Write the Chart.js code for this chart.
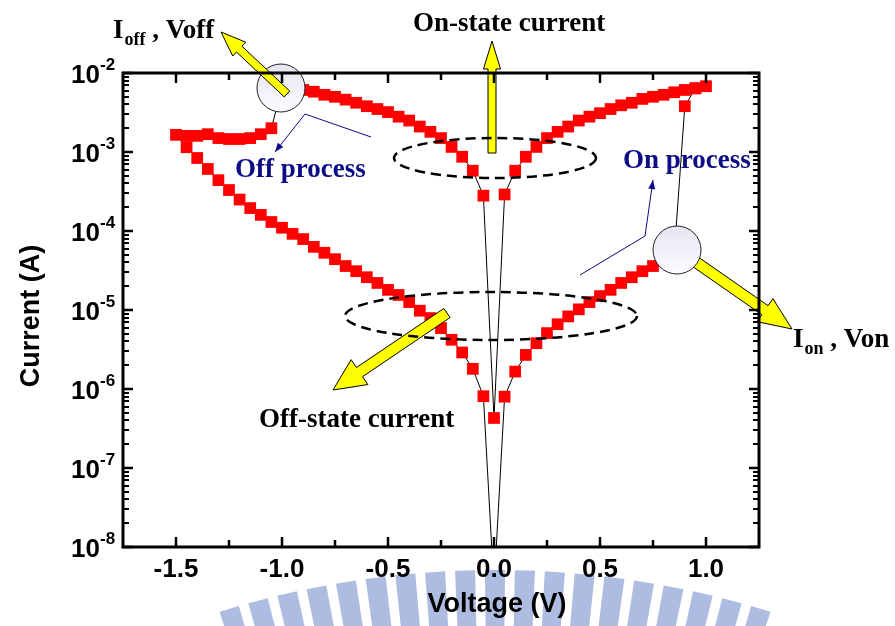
<!DOCTYPE html>
<html>
<head>
<meta charset="utf-8">
<script src="https://cdn.jsdelivr.net/npm/chart.js@4.4.1/dist/chart.umd.min.js"></script>
<style>
  html, body { margin: 0; padding: 0; background: #fff; }
  #wrap { width: 895px; height: 626px; }
</style>
</head>
<body>
<div id="wrap"><canvas id="ivChart" width="895" height="626"></canvas></div>
<script>
// 0 V -> +1.0 V : low state, switches on near 0.85 V
const setV = [0, 0.05, 0.10, 0.15, 0.20, 0.25, 0.30, 0.35, 0.40, 0.45, 0.50,
              0.55, 0.60, 0.65, 0.70, 0.75, 0.80, 0.85, 0.90, 0.95, 1.00];
const setI = [3e-9, 8.0e-7, 1.66e-6, 2.7e-6, 3.8e-6, 5.1e-6, 6.6e-6, 8.3e-6, 1.02e-5, 1.26e-5, 1.5e-5,
              1.8e-5, 2.2e-5, 2.6e-5, 3.1e-5, 3.6e-5, 4.3e-5, 5.0e-5, 3.8e-3, 6.4e-3, 6.8e-3];

// +1.0 V -> 0 V : on state
const onReturnV = [0.95, 0.90, 0.85, 0.80, 0.75, 0.70, 0.65, 0.60, 0.55, 0.50,
                   0.45, 0.40, 0.35, 0.30, 0.25, 0.20, 0.15, 0.10, 0.05, 0];
const onReturnI = [6.4e-3, 6.1e-3, 5.7e-3, 5.3e-3, 5.0e-3, 4.7e-3, 4.2e-3, 3.9e-3, 3.5e-3, 3.1e-3,
                   2.8e-3, 2.5e-3, 2.1e-3, 1.8e-3, 1.5e-3, 1.16e-3, 8.7e-4, 5.8e-4, 2.9e-4, 4.3e-7];

// 0 V -> -1.0 V : on state until Voff
const offSweepV = [-0.05, -0.10, -0.15, -0.20, -0.25, -0.30, -0.35, -0.40, -0.45, -0.50,
                   -0.55, -0.60, -0.65, -0.70, -0.75, -0.80, -0.85, -0.90, -0.95, -1.00];
const offSweepI = [2.8e-4, 5.8e-4, 8.7e-4, 1.16e-3, 1.5e-3, 1.8e-3, 2.1e-3, 2.5e-3, 2.8e-3, 3.2e-3,
                   3.5e-3, 3.8e-3, 4.2e-3, 4.6e-3, 5.0e-3, 5.3e-3, 5.8e-3, 6.1e-3, 6.4e-3, 6.6e-3];

// -1.05 V -> -1.5 V : after switching off
const resetV = [-1.05, -1.10, -1.15, -1.20, -1.25, -1.30, -1.35, -1.40, -1.45, -1.50];
const resetI = [2.0e-3, 1.68e-3, 1.5e-3, 1.46e-3, 1.46e-3, 1.5e-3, 1.68e-3, 1.6e-3, 1.6e-3, 1.65e-3];

// -1.5 V -> 0 V : off state
const offReturnV = [-1.45, -1.40, -1.35, -1.30, -1.25, -1.20, -1.15, -1.10, -1.05, -1.00,
                    -0.95, -0.90, -0.85, -0.80, -0.75, -0.70, -0.65, -0.60, -0.55, -0.50,
                    -0.45, -0.40, -0.35, -0.30, -0.25, -0.20, -0.15, -0.10, -0.05, 0];
const offReturnI = [1.15e-3, 8.4e-4, 6.1e-4, 4.4e-4, 3.3e-4, 2.5e-4, 1.95e-4, 1.6e-4, 1.3e-4, 1.1e-4,
                    9.2e-5, 7.9e-5, 6.3e-5, 5.3e-5, 4.4e-5, 3.6e-5, 3.1e-5, 2.6e-5, 2.2e-5, 1.8e-5,
                    1.55e-5, 1.26e-5, 9.8e-6, 7.9e-6, 5.9e-6, 4.2e-6, 2.9e-6, 1.8e-6, 8.1e-7, 3e-9];

// axis ticks
const xMajorTicks = [-1.5, -1.0, -0.5, 0.0, 0.5, 1.0];
const xTickLabels = ['-1.5', '-1.0', '-0.5', '0.0', '0.5', '1.0'];
const xMinorTicks = [-1.25, -0.75, -0.25, 0.25, 0.75];
const yDecades = [-8, -7, -6, -5, -4, -3, -2];
const yMinorSteps = [2, 3, 4, 5, 6, 7, 8, 9];

const sweepV = [].concat(setV, onReturnV, offSweepV, resetV, offReturnV);
const sweepI = [].concat(setI, onReturnI, offSweepI, resetI, offReturnI);
const sweepPoints = sweepV.map((v, i) => ({ x: v, y: sweepI[i] }));

const SERIF = '"Liberation Serif", "Times New Roman", serif';
const SANS = '"Liberation Sans", Arial, sans-serif';
const NAVY = '#0c0c84';

function blockArrow(ctx, x1, y1, x2, y2, shaft, headW, headL) {
  const dx = x2 - x1, dy = y2 - y1, len = Math.hypot(dx, dy);
  const ux = dx / len, uy = dy / len, px = -uy, py = ux;
  const bx = x2 - ux * headL, by = y2 - uy * headL;
  const s = shaft / 2, h = headW / 2;
  ctx.beginPath();
  ctx.moveTo(x1 + px * s, y1 + py * s);
  ctx.lineTo(bx + px * s, by + py * s);
  ctx.lineTo(bx + px * h, by + py * h);
  ctx.lineTo(x2, y2);
  ctx.lineTo(bx - px * h, by - py * h);
  ctx.lineTo(bx - px * s, by - py * s);
  ctx.lineTo(x1 - px * s, y1 - py * s);
  ctx.closePath();
  ctx.fillStyle = '#ffff00';
  ctx.fill();
  ctx.strokeStyle = '#000';
  ctx.lineWidth = 1;
  ctx.stroke();
}

function bubble(ctx, x, y, r) {
  const g = ctx.createLinearGradient(x, y - r, x, y + r);
  g.addColorStop(0, '#e6e6f4');
  g.addColorStop(1, '#fdfbff');
  ctx.beginPath();
  ctx.arc(x, y, r, 0, Math.PI * 2);
  ctx.fillStyle = g;
  ctx.fill();
  ctx.strokeStyle = '#222';
  ctx.lineWidth = 1;
  ctx.stroke();
}

function pointerLine(ctx, pts) {
  ctx.strokeStyle = NAVY;
  ctx.fillStyle = NAVY;
  ctx.lineWidth = 1;
  ctx.beginPath();
  ctx.moveTo(pts[0][0], pts[0][1]);
  for (let i = 1; i < pts.length; i++) ctx.lineTo(pts[i][0], pts[i][1]);
  ctx.stroke();
  const [ax, ay] = pts[pts.length - 2], [bx, by] = pts[pts.length - 1];
  const ang = Math.atan2(by - ay, bx - ax);
  ctx.beginPath();
  ctx.moveTo(bx, by);
  ctx.lineTo(bx - 9 * Math.cos(ang) + 3.5 * Math.sin(ang), by - 9 * Math.sin(ang) - 3.5 * Math.cos(ang));
  ctx.lineTo(bx - 9 * Math.cos(ang) - 3.5 * Math.sin(ang), by - 9 * Math.sin(ang) + 3.5 * Math.cos(ang));
  ctx.closePath();
  ctx.fill();
}

function dashedEllipse(ctx, x, y, rx, ry) {
  ctx.save();
  ctx.setLineDash([10, 6]);
  ctx.strokeStyle = '#000';
  ctx.lineWidth = 2.5;
  ctx.beginPath();
  ctx.ellipse(x, y, rx, ry, 0, 0, Math.PI * 2);
  ctx.stroke();
  ctx.restore();
}

function subscriptLabel(ctx, x, y, main, sub, rest) {
  ctx.fillStyle = '#000';
  ctx.textAlign = 'left';
  ctx.textBaseline = 'alphabetic';
  ctx.font = 'bold 27px ' + SERIF;
  ctx.fillText(main, x, y);
  let cx = x + ctx.measureText(main).width;
  ctx.font = 'bold 18px ' + SERIF;
  ctx.fillText(sub, cx + 1, y + 7);
  cx += ctx.measureText(sub).width + 1;
  ctx.font = 'bold 27px ' + SERIF;
  ctx.fillText(rest, cx, y);
}

// faint logo watermark behind the bottom of the figure
function drawWatermark(ctx) {
  const cx = 495, cy = 1500, rOut = 930, rIn = 850;
  ctx.fillStyle = '#adbce0';
  for (let k = -9; k <= 9; k++) {
    const mid = -Math.PI / 2 + k * 0.0322, half = 0.0108;
    ctx.beginPath();
    ctx.moveTo(cx + rIn * Math.cos(mid - half), cy + rIn * Math.sin(mid - half));
    ctx.lineTo(cx + rOut * Math.cos(mid - half), cy + rOut * Math.sin(mid - half));
    ctx.lineTo(cx + rOut * Math.cos(mid + half), cy + rOut * Math.sin(mid + half));
    ctx.lineTo(cx + rIn * Math.cos(mid + half), cy + rIn * Math.sin(mid + half));
    ctx.closePath();
    ctx.fill();
  }
}

const figurePlugin = {
  id: 'figure',
  beforeDraw(chart) {
    const ctx = chart.ctx;
    ctx.save();
    ctx.fillStyle = '#fff';
    ctx.fillRect(0, 0, chart.width, chart.height);
    drawWatermark(ctx);
    ctx.restore();
  },
  afterDraw(chart) {
    const ctx = chart.ctx;
    const xs = chart.scales.x, ys = chart.scales.y, a = chart.chartArea;
    ctx.save();

    // yellow arrows and bubbles
    bubble(ctx, 281, 88, 24);
    blockArrow(ctx, 287, 94, 221, 32, 8, 19, 25);
    blockArrow(ctx, 492, 153, 492, 41, 8, 17, 28);
    blockArrow(ctx, 690, 258, 792, 329, 11, 28, 33);
    bubble(ctx, 677, 250, 24);
    blockArrow(ctx, 447, 313, 333, 390, 11, 30, 32);

    // dashed ellipses
    dashedEllipse(ctx, 495, 158, 101, 20);
    dashedEllipse(ctx, 491, 316, 146, 24);

    // process pointers
    pointerLine(ctx, [[371, 137], [305, 114], [275, 152]]);
    pointerLine(ctx, [[580, 275], [645, 236], [653, 180]]);

    // annotation text
    ctx.textBaseline = 'alphabetic';
    ctx.textAlign = 'left';
    ctx.font = 'bold 27px ' + SERIF;
    ctx.fillStyle = NAVY;
    ctx.fillText('Off process', 235, 177);
    ctx.fillText('On process', 623, 168);
    ctx.fillStyle = '#000';
    ctx.fillText('On-state current', 413, 31);
    ctx.fillText('Off-state current', 259, 427);
    subscriptLabel(ctx, 113, 38, 'I', 'off', ' , Voff');
    subscriptLabel(ctx, 793, 347, 'I', 'on', ' , Von');

    // frame
    ctx.strokeStyle = '#000';
    ctx.lineWidth = 3;
    ctx.strokeRect(a.left, a.top, a.right - a.left, a.bottom - a.top);

    // ticks, pointing into the plot on all four sides
    ctx.lineWidth = 2.5;
    ctx.beginPath();
    const xTick = (v, len) => {
      const p = Math.round(xs.getPixelForValue(v));
      ctx.moveTo(p, a.bottom); ctx.lineTo(p, a.bottom - len);
      ctx.moveTo(p, a.top); ctx.lineTo(p, a.top + len);
    };
    const yTick = (v, len) => {
      const p = Math.round(ys.getPixelForValue(v));
      ctx.moveTo(a.left, p); ctx.lineTo(a.left + len, p);
      ctx.moveTo(a.right, p); ctx.lineTo(a.right - len, p);
    };
    xMajorTicks.forEach(v => xTick(v, 10));
    xMinorTicks.forEach(v => xTick(v, 7));
    yDecades.forEach(e => yTick(Math.pow(10, e), 10));
    ctx.stroke();
    ctx.lineWidth = 2;
    ctx.beginPath();
    yDecades.slice(0, -1).forEach(e => yMinorSteps.forEach(m => yTick(m * Math.pow(10, e), 6)));
    ctx.stroke();

    // tick labels
    ctx.fillStyle = '#000';
    ctx.font = 'bold 26px ' + SANS;
    ctx.textAlign = 'center';
    xMajorTicks.forEach((v, i) => ctx.fillText(xTickLabels[i], xs.getPixelForValue(v), 577));
    yDecades.forEach(e => {
      const p = ys.getPixelForValue(Math.pow(10, e));
      ctx.font = 'bold 26px ' + SANS;
      ctx.textAlign = 'right';
      ctx.fillText('10', 100, p + 10);
      ctx.font = 'bold 17px ' + SANS;
      ctx.textAlign = 'left';
      ctx.fillText(String(e), 100, p - 3);
    });

    // axis titles
    ctx.font = 'bold 27px ' + SANS;
    ctx.textAlign = 'center';
    ctx.fillText('Voltage (V)', 497, 612);
    ctx.translate(39, 316);
    ctx.rotate(-Math.PI / 2);
    ctx.fillText('Current (A)', 0, 0);

    ctx.restore();
  }
};

new Chart(document.getElementById('ivChart'), {
  type: 'scatter',
  data: {
    datasets: [{
      data: sweepPoints,
      showLine: true,
      borderColor: '#000',
      borderWidth: 1,
      tension: 0,
      pointStyle: 'rect',
      pointRadius: 8.3,
      pointBackgroundColor: '#ff0000',
      pointBorderColor: 'rgba(0,0,0,0)',
      pointBorderWidth: 0,
    }],
  },
  options: {
    responsive: false,
    animation: false,
    devicePixelRatio: 1,
    events: [],
    layout: {
      padding: { left: 123, right: 136, top: 73, bottom: 79 },
    },
    plugins: {
      legend: { display: false },
      tooltip: { enabled: false },
    },
    scales: {
      x: { type: 'linear', display: false, min: -1.75, max: 1.25 },
      y: { type: 'logarithmic', display: false, min: 1e-8, max: 1e-2 },
    },
  },
  plugins: [figurePlugin],
});
</script>
</body>
</html>
